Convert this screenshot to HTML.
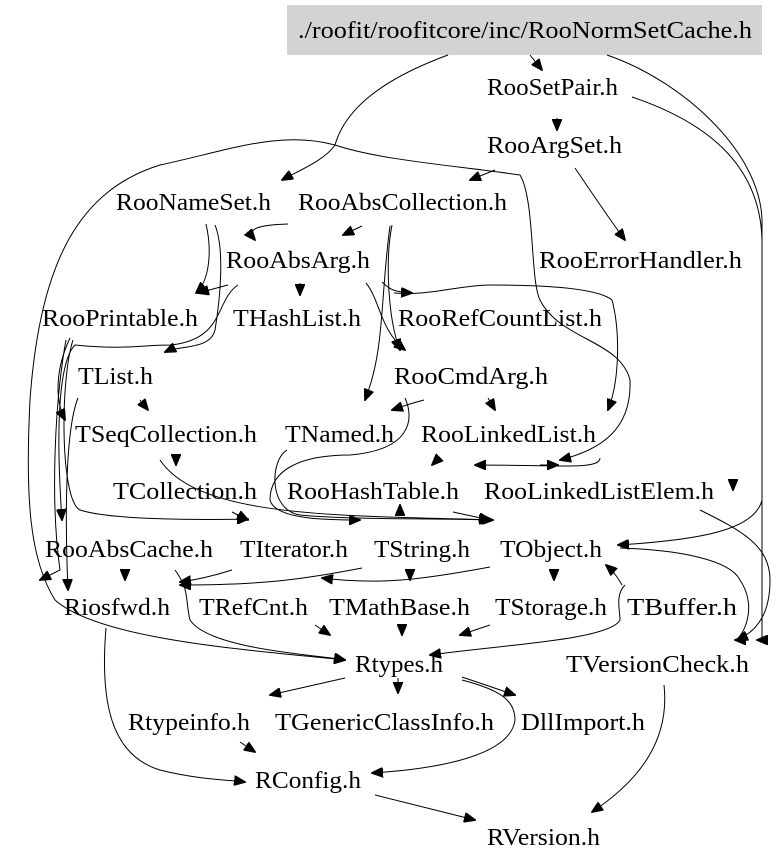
<!DOCTYPE html>
<html><head><meta charset="utf-8"><style>
html,body{margin:0;padding:0;background:#fff;}
svg{display:block;}
text{font-family:"Liberation Serif",serif;font-size:24px;fill:#000;}
path{fill:none;stroke:#000;stroke-width:1;}
</style></head><body>
<svg width="779" height="862" viewBox="0 0 779 862" xmlns="http://www.w3.org/2000/svg">
<defs>
<marker id="a" markerUnits="userSpaceOnUse" markerWidth="12" markerHeight="10" refX="11" refY="5" orient="auto">
<path d="M0,0 L12,5 L0,10 Z" style="fill:#000;stroke:#000"/>
</marker>
</defs>
<rect x="287" y="5" width="475" height="50" fill="#d3d3d3"/>
<g>
<text x="298" y="38" textLength="454" lengthAdjust="spacingAndGlyphs">./roofit/roofitcore/inc/RooNormSetCache.h</text>
<text x="487" y="95" textLength="131" lengthAdjust="spacingAndGlyphs">RooSetPair.h</text>
<text x="487" y="153" textLength="135" lengthAdjust="spacingAndGlyphs">RooArgSet.h</text>
<text x="116" y="210" textLength="155" lengthAdjust="spacingAndGlyphs">RooNameSet.h</text>
<text x="298" y="210" textLength="209" lengthAdjust="spacingAndGlyphs">RooAbsCollection.h</text>
<text x="226" y="268" textLength="144" lengthAdjust="spacingAndGlyphs">RooAbsArg.h</text>
<text x="539" y="268" textLength="203" lengthAdjust="spacingAndGlyphs">RooErrorHandler.h</text>
<text x="42" y="326" textLength="156" lengthAdjust="spacingAndGlyphs">RooPrintable.h</text>
<text x="233" y="326" textLength="128" lengthAdjust="spacingAndGlyphs">THashList.h</text>
<text x="398" y="326" textLength="204" lengthAdjust="spacingAndGlyphs">RooRefCountList.h</text>
<text x="78" y="384" textLength="75" lengthAdjust="spacingAndGlyphs">TList.h</text>
<text x="394" y="384" textLength="154" lengthAdjust="spacingAndGlyphs">RooCmdArg.h</text>
<text x="75" y="442" textLength="182" lengthAdjust="spacingAndGlyphs">TSeqCollection.h</text>
<text x="285" y="442" textLength="109" lengthAdjust="spacingAndGlyphs">TNamed.h</text>
<text x="421" y="442" textLength="175" lengthAdjust="spacingAndGlyphs">RooLinkedList.h</text>
<text x="113" y="499" textLength="144" lengthAdjust="spacingAndGlyphs">TCollection.h</text>
<text x="287" y="499" textLength="172" lengthAdjust="spacingAndGlyphs">RooHashTable.h</text>
<text x="484" y="499" textLength="230" lengthAdjust="spacingAndGlyphs">RooLinkedListElem.h</text>
<text x="45" y="557" textLength="168" lengthAdjust="spacingAndGlyphs">RooAbsCache.h</text>
<text x="240" y="557" textLength="108" lengthAdjust="spacingAndGlyphs">TIterator.h</text>
<text x="374" y="557" textLength="96" lengthAdjust="spacingAndGlyphs">TString.h</text>
<text x="500" y="557" textLength="102" lengthAdjust="spacingAndGlyphs">TObject.h</text>
<text x="64" y="615" textLength="106" lengthAdjust="spacingAndGlyphs">Riosfwd.h</text>
<text x="199" y="615" textLength="109" lengthAdjust="spacingAndGlyphs">TRefCnt.h</text>
<text x="329" y="615" textLength="141" lengthAdjust="spacingAndGlyphs">TMathBase.h</text>
<text x="495" y="615" textLength="112" lengthAdjust="spacingAndGlyphs">TStorage.h</text>
<text x="627" y="615" textLength="110" lengthAdjust="spacingAndGlyphs">TBuffer.h</text>
<text x="355" y="672" textLength="88" lengthAdjust="spacingAndGlyphs">Rtypes.h</text>
<text x="566" y="672" textLength="183" lengthAdjust="spacingAndGlyphs">TVersionCheck.h</text>
<text x="128" y="730" textLength="122" lengthAdjust="spacingAndGlyphs">Rtypeinfo.h</text>
<text x="275" y="730" textLength="219" lengthAdjust="spacingAndGlyphs">TGenericClassInfo.h</text>
<text x="521" y="730" textLength="124" lengthAdjust="spacingAndGlyphs">DllImport.h</text>
<text x="255" y="788" textLength="106" lengthAdjust="spacingAndGlyphs">RConfig.h</text>
<text x="487" y="845" textLength="113" lengthAdjust="spacingAndGlyphs">RVersion.h</text>
</g>
<g marker-end="url(#a)">
<path d="M530,55 L542,70"/>
<path d="M448,55 C380,80 345,110 335,145 C325,160 300,170 282,180"/>
<path d="M335,145 C280,130 230,150 160,165 C80,190 40,260 30,400 C25,500 30,560 55,600 C100,640 250,650 345,660"/>
<path d="M335,145 C380,160 450,165 520,175 C535,200 530,280 540,300 C560,340 620,340 630,380 C632,430 600,450 560,460"/>
<path d="M607,55 C680,80 760,150 762,220 L762,500 C755,530 700,540 618,545"/>
<path d="M632,97 C700,120 760,160 762,240 L762,640 L757,640"/>
<path d="M557,118 L557,130"/>
<path d="M495,170 L470,180"/>
<path d="M575,168 C590,190 610,220 625,240"/>
<path d="M288,224 C260,225 245,228 255,240"/>
<path d="M362,226 L343,235"/>
<path d="M206,224 C212,250 210,280 196,293"/>
<path d="M228,285 L198,293"/>
<path d="M300,283 L300,295"/>
<path d="M382,282 C390,290 395,292 412,293"/>
<path d="M392,225 C385,260 388,320 400,350"/>
<path d="M390,226 C380,300 385,350 365,400"/>
<path d="M366,283 C380,300 380,330 405,350"/>
<path d="M215,225 C225,250 220,300 215,330 C210,350 180,345 165,352"/>
<path d="M238,285 C215,300 225,340 170,345 C140,345 125,350 75,345 C60,360 55,420 62,520"/>
<path d="M394,293 C430,296 460,285 490,285 C560,285 600,290 612,300 C620,330 620,380 608,410"/>
<path d="M70,338 C55,370 55,400 65,420"/>
<path d="M73,340 C60,380 60,500 80,510 C110,520 200,520 248,519"/>
<path d="M66,340 C55,400 50,500 60,570 L40,580"/>
<path d="M140,400 L148,410"/>
<path d="M78,398 C65,430 65,520 68,590"/>
<path d="M176,455 L176,465"/>
<path d="M424,400 C405,405 398,408 392,410"/>
<path d="M488,398 L495,410"/>
<path d="M405,398 C415,420 410,450 350,455 C300,455 270,470 270,500 C275,520 330,520 360,520"/>
<path d="M440,457 L432,465"/>
<path d="M600,458 C600,470 560,465 475,465"/>
<path d="M540,465 L558,465"/>
<path d="M287,450 C270,460 268,510 300,515 C350,520 430,518 490,520"/>
<path d="M160,460 C200,520 350,515 493,520"/>
<path d="M232,512 L248,520"/>
<path d="M400,512 L400,505"/>
<path d="M453,512 L490,520"/>
<path d="M733,482 L733,490"/>
<path d="M700,510 C740,530 770,545 770,580 C770,610 760,630 737,640"/>
<path d="M125,570 L125,580"/>
<path d="M175,570 C190,590 185,600 190,620 C210,650 320,655 345,660"/>
<path d="M232,570 C210,577 195,580 180,582"/>
<path d="M362,568 C300,580 260,585 180,585"/>
<path d="M490,567 C420,580 380,585 322,578"/>
<path d="M410,570 L410,580"/>
<path d="M554,570 L554,580"/>
<path d="M620,548 C680,550 730,560 740,580 C760,610 740,640 735,640"/>
<path d="M625,585 C615,595 620,610 620,620 C610,640 500,645 430,655"/>
<path d="M622,585 C618,578 614,572 606,565"/>
<path d="M315,625 L330,635"/>
<path d="M402,625 L402,635"/>
<path d="M490,625 L460,635"/>
<path d="M345,678 L270,695"/>
<path d="M398,678 L398,693"/>
<path d="M462,677 L515,695"/>
<path d="M462,680 C500,690 515,700 515,720 C510,760 420,770 372,773"/>
<path d="M106,628 C100,700 110,755 160,770 C200,780 230,780 245,782"/>
<path d="M240,742 L255,752"/>
<path d="M375,795 L475,820"/>
<path d="M664,685 C670,740 640,780 592,812"/>
</g>
</svg>
</body></html>
